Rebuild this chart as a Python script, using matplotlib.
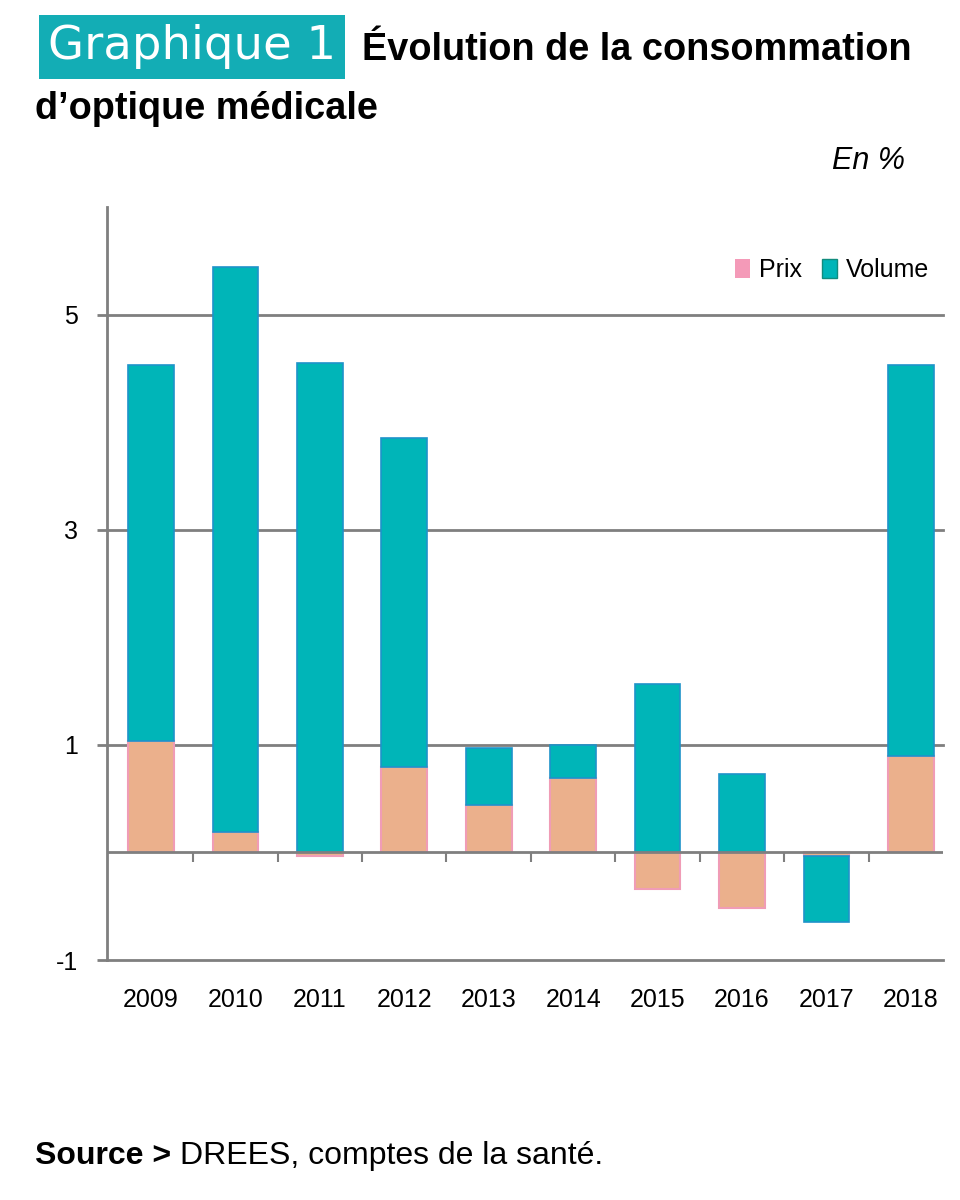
import matplotlib
matplotlib.use("Agg")
import matplotlib.pyplot as plt
from matplotlib.patches import Patch
import numpy as np

# données (en %)
annees = ['2009', '2010', '2011', '2012', '2013', '2014', '2015', '2016', '2017', '2018']
prix = [1.04, 0.19, -0.03, 0.79, 0.44, 0.69, -0.34, -0.52, -0.03, 0.90]
volume = [3.49, 5.25, 4.55, 3.06, 0.53, 0.31, 1.57, 0.73, -0.62, 3.63]
y_ticks = [-1, 1, 3, 5]

col_prix = '#EBB08C'
col_prix_bord = '#F09CB6'
col_vol = '#00B5B8'
col_vol_bord = '#1F93C9'
col_grille = '#7F7F7F'

plt.rcParams['font.family'] = ['Liberation Sans', 'DejaVu Sans']

fig = plt.figure(figsize=(9.6, 12), dpi=100)
ax = fig.add_axes([0.1115, 0.2, 0.8708, 0.6275])

x = np.arange(len(annees))
prix_a = np.array(prix)
vol_a = np.array(volume)
# le volume s'empile sur le prix quand les deux ont le même signe
bas_vol = np.where(np.sign(prix_a) == np.sign(vol_a), prix_a, 0.0)

ax.bar(x, prix_a, width=0.54, color=col_prix, edgecolor=col_prix_bord,
       linewidth=1.5, zorder=3)
ax.bar(x, vol_a, width=0.54, bottom=bas_vol, color=col_vol,
       edgecolor=col_vol_bord, linewidth=1.2, zorder=3)

ax.set_xlim(-0.52, 9.38)
ax.set_ylim(-1, 6)
ax.set_yticks(y_ticks)
ax.set_yticklabels([str(v) for v in y_ticks])
ax.set_xticks(x)
ax.set_xticklabels(annees)

for v in y_ticks:
    ax.axhline(v, color=col_grille, linewidth=2, zorder=1, clip_on=False)
ax.axhline(0, color=col_grille, linewidth=2, zorder=4)
# petites graduations entre les années sur l'axe zéro
ax.vlines(x[:-1] + 0.5, -0.09, 0, color=col_grille, linewidth=1.5, zorder=4)

for s in ['top', 'right', 'bottom']:
    ax.spines[s].set_visible(False)
ax.spines['left'].set_color(col_grille)
ax.spines['left'].set_linewidth(2)
ax.tick_params(axis='y', length=7, width=2, color=col_grille, pad=14,
               labelsize=18)
ax.tick_params(axis='x', length=0, pad=20, labelsize=18)

handles = [Patch(facecolor='#F49AB8', edgecolor='none', label='Prix'),
           Patch(facecolor=col_vol, edgecolor='#128C7E', label='Volume')]
ax.legend(handles=handles, loc='center right', bbox_to_anchor=(0.995, 0.916),
          ncol=2, frameon=False, fontsize=18, handlelength=0.6,
          handleheight=0.8, handletextpad=0.35, columnspacing=0.8,
          borderaxespad=0)

# titre
fig.text(0.05, 0.961, 'Graphique 1', fontsize=33.5, color='white',
         family=['DejaVu Sans'], va='center', ha='left',
         bbox=dict(boxstyle='square,pad=0.2', facecolor='#13ADB5',
                   edgecolor='none'))
fig.text(0.377, 0.958, 'Évolution de la consommation', fontsize=27.3,
         fontweight='bold', va='center', ha='left')
fig.text(0.036, 0.909, 'd\u2019optique médicale', fontsize=27.3,
         fontweight='bold', va='center', ha='left')
fig.text(0.943, 0.866, 'En %', fontsize=22, style='italic',
         va='center', ha='right')

src = fig.text(0.036, 0.037, 'Source >', fontsize=23, fontweight='bold',
               va='center', ha='left')
fig.canvas.draw()
bb = src.get_window_extent(renderer=fig.canvas.get_renderer())
x_suite = (bb.x1 + 9) / fig.bbox.width
fig.text(x_suite, 0.037, 'DREES, comptes de la santé.', fontsize=23,
         va='center', ha='left')

fig.savefig('out.png', dpi=100)
